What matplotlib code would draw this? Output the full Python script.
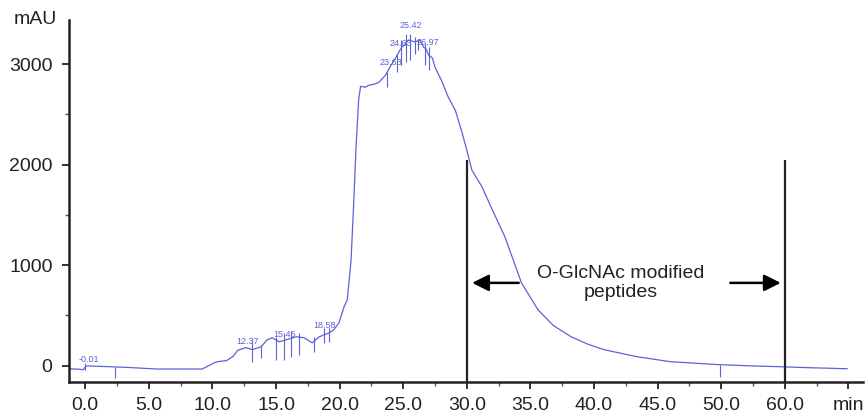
import matplotlib
matplotlib.use("Agg")
import matplotlib.pyplot as plt

plt.rcParams['font.family'] = ['Liberation Sans', 'DejaVu Sans']

# chromatogram trace (min, mAU)
rt = [-1.25, -0.5, -0.15, 0.05, 0.2, 1.5, 3.0, 4.5, 5.6, 7.5, 9.2, 9.6, 10.2, 10.55,
      11.1, 11.6, 12.0, 12.65, 13.15, 13.85, 14.3, 14.7, 15.25, 15.8, 16.6, 17.2,
      17.85, 18.4, 19.2, 19.55, 19.95, 20.35, 20.6, 20.9, 21.1, 21.3, 21.5, 21.65,
      22.0, 22.3, 22.7, 23.1, 23.6, 24.0, 24.4, 24.7, 24.9, 25.15, 25.4, 25.7,
      25.95, 26.3, 26.6, 26.8, 27.0, 27.3, 27.5, 28.0, 28.55, 29.1, 29.6, 30.0,
      30.4, 31.2, 31.9, 33.0, 34.3, 35.6, 36.8, 38.2, 39.5, 40.8, 43.4, 46.0,
      49.9, 52.0, 54.6, 57.0, 59.9]
mau = [-30, -35, -40, -5, -2, -8, -15, -25, -33, -33, -33, -7, 33, 43,
       50, 90, 155, 180, 160, 190, 258, 278, 238, 258, 288, 278,
       228, 288, 328, 358, 427, 586, 655, 1050, 1600, 2200, 2650, 2780,
       2770, 2790, 2800, 2820, 2890, 2980, 3060, 3130, 3170, 3200, 3240, 3230,
       3220, 3240, 3170, 3150, 3090, 3060, 2970, 2840, 2670, 2540, 2330, 2145,
       1946, 1778, 1580, 1281, 824, 556, 400, 288, 215, 159, 89, 40,
       10, 0, -10, -20, -30]

# integration markers (retention time, top, bottom)
mark_rt = [0.0, 2.35, 13.1, 13.85, 15.0, 15.6, 16.2, 16.8, 18.0, 18.8, 19.2,
           23.7, 24.5, 24.85, 25.2, 25.5, 25.9, 26.2, 26.75, 27.05, 49.9]
mark_top = [30, -10, 260, 210, 290, 330, 340, 330, 290, 380, 380,
            2920, 3100, 3240, 3300, 3300, 3270, 3250, 3200, 3170, 10]
mark_bottom = [-40, -120, 40, 80, 60, 60, 90, 110, 140, 230, 240,
               2775, 2920, 2990, 3020, 3040, 3100, 3140, 2990, 2940, -110]

# peak labels
peak_text = ['-0.01', '12.37', '15.45', '18.58', '23.63', '24.63', '25.42', '26.97']
peak_x = [0.3, 12.8, 15.65, 18.8, 24.0, 24.85, 25.6, 26.95]
peak_y = [60, 240, 310, 400, 3020, 3210, 3380, 3220]

xticks = [0, 5, 10, 15, 20, 25, 30, 35, 40, 45, 50, 55, 60]
xlabels = ['0.0', '5.0', '10.0', '15.0', '20.0', '25.0', '30.0', '35.0',
           '40.0', '45.0', '50.0', '60.0', 'min']
window = [30, 55]

blue = '#5a63d6'
dark = '#222222'

fig = plt.figure(figsize=(8.65, 4.15), dpi=100)
ax = fig.add_axes([0.08, 0.08, 0.918, 0.872])

ax.plot(rt, mau, color=blue, lw=0.9)
ax.vlines(mark_rt, mark_bottom, mark_top, color=blue, lw=0.8)
for t, x, y in zip(peak_text, peak_x, peak_y):
    ax.text(x, y, t, color=blue, fontsize=6.5, ha='center', va='center')

ax.vlines(window, -160, 2045, color=dark, lw=1.6)
ax.annotate('', xy=(window[0] + 0.2, 824), xytext=(34.3, 824),
            arrowprops=dict(arrowstyle='-|>,head_length=1.0,head_width=0.5',
                            color='black', lw=1.8))
ax.annotate('', xy=(window[1] - 0.1, 824), xytext=(50.5, 824),
            arrowprops=dict(arrowstyle='-|>,head_length=1.0,head_width=0.5',
                            color='black', lw=1.8))
ax.text(42.1, 824, 'O-GlcNAc modified\npeptides', ha='center', va='center',
        fontsize=14, color='#222222', linespacing=1.15)

ax.set_xlim(-1.26, 61.17)
ax.set_ylim(-160, 3440)
ax.set_xticks(xticks)
ax.set_xticklabels(xlabels)
ax.set_xticks([x + 2.5 for x in xticks[:-1]], minor=True)
ax.set_yticks([0, 1000, 2000, 3000])
ax.set_yticks([500, 1500, 2500], minor=True)

for s in ['top', 'right']:
    ax.spines[s].set_visible(False)
for s in ['left', 'bottom']:
    ax.spines[s].set_linewidth(1.8)
    ax.spines[s].set_color(dark)
ax.tick_params(axis='both', which='major', labelsize=14, color=dark, width=1.3,
               length=5, labelcolor='#222222')
ax.tick_params(axis='x', which='major', pad=6)
ax.tick_params(axis='y', which='major', pad=7)
ax.tick_params(axis='both', which='minor', color='#555555', width=1, length=3)

ax.text(-0.015, 1.0, 'mAU', transform=ax.transAxes, ha='right', va='center',
        fontsize=14, color='#222222')

fig.savefig('out.png', dpi=100)
